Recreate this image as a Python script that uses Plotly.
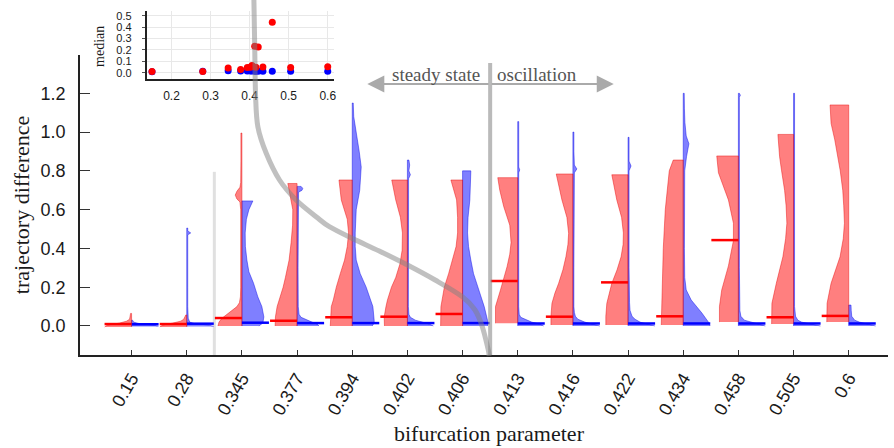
import plotly.graph_objects as go

# ---------------- data ----------------
labels = ["0.15", "0.28", "0.345", "0.377", "0.394", "0.402", "0.406",
          "0.413", "0.416", "0.422", "0.434", "0.458", "0.505", "0.6"]
params = [float(s) for s in labels]

red_median = [0.01, 0.01, 0.041, 0.027, 0.045, 0.048, 0.062,
              0.232, 0.048, 0.225, 0.05, 0.443, 0.045, 0.052]
blue_median = [0.009, 0.012, 0.017, 0.015, 0.015, 0.015, 0.015,
               0.013, 0.013, 0.013, 0.013, 0.013, 0.013, 0.013]

# density profiles (value, relative density)
red_y = [
    [-0.005, 0.005, 0.015, 0.025, 0.035, 0.05, 0.065],
    [-0.005, 0.005, 0.015, 0.025, 0.035, 0.045, 0.057],
    [0.0, 0.02, 0.04, 0.06, 0.08, 0.1, 0.12, 0.15, 0.2, 0.4, 0.6, 0.64, 0.655, 0.675, 0.695, 0.715, 0.74, 0.85, 0.995],
    [0.0, 0.047, 0.1, 0.134, 0.2, 0.25, 0.34, 0.43, 0.52, 0.6, 0.67, 0.735],
    [0.0, 0.05, 0.1, 0.134, 0.2, 0.27, 0.34, 0.41, 0.48, 0.55, 0.65, 0.753],
    [0.0, 0.047, 0.1, 0.134, 0.2, 0.25, 0.32, 0.39, 0.48, 0.56, 0.65, 0.753],
    [0.0, 0.05, 0.1, 0.15, 0.2, 0.27, 0.34, 0.41, 0.48, 0.56, 0.65, 0.753],
    [0.014, 0.1, 0.186, 0.25, 0.306, 0.37, 0.43, 0.52, 0.615, 0.7, 0.765],
    [0.005, 0.05, 0.117, 0.17, 0.22, 0.29, 0.357, 0.42, 0.478, 0.56, 0.65, 0.784],
    [0.005, 0.05, 0.117, 0.17, 0.22, 0.29, 0.357, 0.42, 0.48, 0.56, 0.65, 0.78],
    [0.005, 0.1, 0.2, 0.4, 0.6, 0.7, 0.8, 0.856],
    [0.02, 0.1, 0.186, 0.31, 0.44, 0.53, 0.65, 0.79, 0.877],
    [0.01, 0.05, 0.117, 0.22, 0.357, 0.45, 0.53, 0.62, 0.7, 0.8, 0.873, 0.988],
    [0.02, 0.05, 0.117, 0.22, 0.357, 0.45, 0.53, 0.62, 0.7, 0.8, 0.873, 0.96, 1.045, 1.14],
]
red_w = [
    [27, 24, 12, 5, 2, 1.2, 1],
    [27, 24, 14, 6, 3, 2, 1],
    [24, 23, 20, 15, 10, 5, 2.5, 1.5, 1.2, 1.2, 1.2, 2, 5, 6.7, 5, 2, 1.2, 1, 1],
    [22, 21.7, 20, 17.7, 14, 11.7, 8, 6, 4.5, 4.3, 6.5, 9.3],
    [22, 21.5, 21, 19, 16, 12, 7.7, 5, 3.7, 5, 11, 13.3],
    [23, 23.3, 21.5, 20, 16, 11.7, 7.5, 5.3, 5, 7, 11.7, 15.7],
    [22, 22, 21.7, 20, 18.3, 14, 10, 6.5, 5, 5, 6, 11.7],
    [22.3, 22.3, 17.3, 13.5, 10.7, 8, 6.7, 8, 14, 18, 20],
    [22, 22, 21, 18, 14.3, 10, 7, 5, 4.3, 6, 11, 16.7],
    [22.3, 22.3, 21.3, 19, 16.3, 11, 7, 5, 4.7, 6.5, 11.3, 16.3],
    [22, 21.5, 21, 20, 18, 16, 14, 10],
    [19, 19, 16.7, 10, 5, 5, 10, 20, 21.7],
    [22, 22, 21.7, 17.3, 10.7, 8, 6.7, 7.5, 9, 12, 14, 15.7],
    [22, 22, 21.7, 17.7, 8.7, 5.5, 4.3, 5, 6, 8.5, 11, 14, 17.7, 18.7],
]
blue_y = [
    [-0.002, 0.005, 0.012, 0.02, 0.03],
    [-0.002, 0.005, 0.012, 0.02, 0.04, 0.07, 0.1, 0.2, 0.4, 0.47, 0.48, 0.49, 0.505],
    [0.0, 0.015, 0.047, 0.1, 0.15, 0.22, 0.28, 0.34, 0.41, 0.48, 0.55, 0.6, 0.645],
    [0.0, 0.01, 0.02, 0.03, 0.045, 0.06, 0.1, 0.3, 0.6, 0.69, 0.7, 0.71, 0.72],
    [0.0, 0.015, 0.03, 0.1, 0.2, 0.27, 0.34, 0.41, 0.48, 0.6, 0.7, 0.78, 0.82, 0.9, 0.995, 1.08, 1.15],
    [0.0, 0.01, 0.02, 0.03, 0.045, 0.06, 0.1, 0.3, 0.6, 0.76, 0.78, 0.8, 0.83, 0.856],
    [0.0, 0.03, 0.1, 0.2, 0.27, 0.34, 0.41, 0.48, 0.56, 0.65, 0.72, 0.8],
    [0.0, 0.01, 0.02, 0.03, 0.045, 0.06, 0.1, 0.3, 0.6, 0.79, 0.805, 0.82, 0.9, 1.054],
    [0.0, 0.01, 0.02, 0.035, 0.05, 0.07, 0.1, 0.3, 0.6, 0.79, 0.81, 0.83, 0.9, 1.0],
    [0.0, 0.01, 0.02, 0.035, 0.05, 0.08, 0.12, 0.3, 0.6, 0.8, 0.825, 0.85, 0.973],
    [0.0, 0.022, 0.067, 0.1, 0.134, 0.186, 0.25, 0.4, 0.6, 0.8, 0.873, 0.94, 0.98, 1.05, 1.12, 1.2],
    [0.0, 0.01, 0.02, 0.03, 0.05, 0.08, 0.3, 0.6, 0.9, 1.18, 1.19, 1.2],
    [0.0, 0.01, 0.02, 0.03, 0.05, 0.1, 0.4, 0.8, 1.2],
    [0.0, 0.01, 0.02, 0.03, 0.05, 0.08, 0.095, 0.108],
]
blue_w = [
    [27, 22, 8, 2, 1],
    [27, 22, 8, 3, 1.5, 1.2, 1, 1, 1, 1, 4, 1, 1],
    [17, 21, 22, 20, 16, 11.7, 7, 5, 3.5, 3.3, 4.5, 7, 11],
    [22, 20, 15, 10, 4, 2, 1.2, 1, 1, 1.5, 5, 5.7, 4],
    [20, 22, 22, 20.7, 14, 8, 4, 3, 3, 4, 7.5, 9, 9, 7, 4, 1.5, 1],
    [26, 22, 15, 8, 3, 1.5, 1, 1, 1, 1.2, 3, 1.5, 2.3, 1.5],
    [25, 25, 21.7, 15, 11, 8.3, 6, 5, 5.5, 7.3, 8, 8.3],
    [26, 22, 14, 9, 3, 1.5, 1, 1, 1, 1, 2, 1, 1, 1],
    [27, 20, 12, 5, 2.5, 1.5, 1, 1, 1, 1.5, 4, 1.5, 1, 1],
    [27, 20, 12, 7, 4, 2, 1.5, 1, 1, 1, 3, 1, 1],
    [27, 25, 18.7, 13, 8, 3, 1.5, 1.2, 1.2, 1.5, 3.3, 5.7, 3, 1.7, 1.2, 1],
    [27, 20, 13, 6, 2.5, 1.5, 1, 1, 1, 1, 2, 1],
    [27, 16, 8, 4.3, 2, 1, 1, 1, 1],
    [27, 18, 10.7, 6, 3, 2.5, 2.5, 2.3],
]

y_ticks = [0.0, 0.2, 0.4, 0.6, 0.8, 1.0, 1.2]
inset_x_ticks = [0.2, 0.3, 0.4, 0.5, 0.6]
inset_y_ticks = [0.0, 0.1, 0.2, 0.3, 0.4, 0.5]

# ---------------- styling ----------------
W, H = 894, 448
ML, MR, MT, MB = 80, 4, 5, 93
WSCALE = 1 / 55.3          # density -> category units
HALF = 0.49                # median line length
RED_FILL, RED_LINE = "rgba(255,0,0,0.5)", "rgba(230,0,0,0.55)"
BLUE_FILL, BLUE_LINE = "rgba(0,0,255,0.5)", "rgba(0,0,230,0.55)"
SANS = "Liberation Sans, Arial, sans-serif"
SERIF = "Liberation Serif, Times New Roman, serif"

fig = go.Figure()

for i in range(len(labels)):
    ys, ws = blue_y[i], blue_w[i]
    xs = [i + w * WSCALE for w in ws] + [i, i]
    yy = list(ys) + [ys[-1], ys[0]]
    fig.add_trace(go.Scatter(x=xs, y=yy, fill="toself", fillcolor=BLUE_FILL,
                             mode="lines", line=dict(color=BLUE_LINE, width=0.8),
                             hoverinfo="skip"))
    ys, ws = red_y[i], red_w[i]
    xs = [i - w * WSCALE for w in ws] + [i, i]
    yy = list(ys) + [ys[-1], ys[0]]
    fig.add_trace(go.Scatter(x=xs, y=yy, fill="toself", fillcolor=RED_FILL,
                             mode="lines", line=dict(color=RED_LINE, width=0.8),
                             hoverinfo="skip"))

rx, ry, bx, by = [], [], [], []
for i in range(len(labels)):
    rx += [i - HALF, i, None]
    ry += [red_median[i], red_median[i], None]
    bx += [i, i + HALF, None]
    by += [blue_median[i], blue_median[i], None]
fig.add_trace(go.Scatter(x=bx, y=by, mode="lines", line=dict(color="#0000ff", width=2.5)))
fig.add_trace(go.Scatter(x=rx, y=ry, mode="lines", line=dict(color="#ff0000", width=2.5)))

# inset
fig.add_trace(go.Scatter(x=params, y=blue_median, mode="markers", xaxis="x2", yaxis="y2",
                         marker=dict(color="#0000ff", size=7)))
fig.add_trace(go.Scatter(x=params, y=red_median, mode="markers", xaxis="x2", yaxis="y2",
                         marker=dict(color="#ff0000", size=7)))

X0, X1 = -0.935, 13.712
Y0, Y1 = -0.1496, 1.3976
main_top = (H - MB - 55) / (H - MB - MT)

fig.update_layout(
    width=W, height=H, margin=dict(l=ML, r=MR, t=MT, b=MB),
    plot_bgcolor="white", paper_bgcolor="white", showlegend=False,
    xaxis=dict(domain=[0, 1], range=[X0, X1], tickvals=list(range(len(labels))),
               ticktext=labels, tickangle=-60, ticks="inside", ticklen=5,
               tickcolor="#333", showline=True, linecolor="#222", linewidth=1.5,
               showgrid=False, zeroline=False, ticklabelstandoff=4,
               tickfont=dict(family=SANS, size=18, color="#1a1a1a")),
    yaxis=dict(domain=[0, main_top], range=[Y0, Y1], tickvals=y_ticks,
               ticktext=[f"{v:.1f}" for v in y_ticks], ticks="inside", ticklen=10,
               tickcolor="#333", showline=True, linecolor="#222", linewidth=1.5,
               showgrid=False, zeroline=False, ticklabelstandoff=9,
               tickfont=dict(family=SANS, size=18, color="#1a1a1a")),
    xaxis2=dict(anchor="y2", domain=[(146.7 - ML) / (W - ML - MR), (335 - ML) / (W - ML - MR)],
                range=[0.136, 0.617], tickvals=inset_x_ticks,
                ticktext=[f"{v:.1f}" for v in inset_x_ticks],
                showgrid=True, gridcolor="#e8e8e8", gridwidth=1, zeroline=False,
                showline=True, linecolor="#222", linewidth=1.5, ticks="",
                ticklabelstandoff=5,
                tickfont=dict(family=SANS, size=12, color="#1a1a1a")),
    yaxis2=dict(anchor="x2", domain=[(H - MB - 79.3) / (H - MB - MT), (H - MB - 11) / (H - MB - MT)],
                range=[-0.058, 0.541], tickvals=inset_y_ticks,
                ticktext=[f"{v:.1f}" for v in inset_y_ticks],
                showgrid=True, gridcolor="#e8e8e8", gridwidth=1, zeroline=False,
                showline=True, linecolor="#222", linewidth=1.5, ticks="outside",
                ticklen=3, tickcolor="#555", ticklabelstandoff=8,
                tickfont=dict(family=SANS, size=11, color="#1a1a1a")),
)

# ---------------- decorations ----------------
def to_paper(px, py):
    return ((px - ML) / (W - ML - MR), (H - MB - py) / (H - MB - MT))

guide_curve_px = [(254.3, -2), (255.2, 50), (256, 95), (258.3, 126.7), (266.7, 153.3),
                  (280, 180), (296.7, 200), (316.7, 216.7), (330, 226.7), (352.7, 238.3),
                  (380, 251), (408.3, 265), (436, 280), (463.3, 296.7), (476, 310),
                  (483.3, 326.7), (489.3, 350), (490, 356)]

def catmull(pts):
    P = [to_paper(*p) for p in pts]
    d = f"M{P[0][0]:.5f},{P[0][1]:.5f}"
    n = len(P)
    for i in range(n - 1):
        p0 = P[i - 1] if i > 0 else P[i]
        p1, p2 = P[i], P[i + 1]
        p3 = P[i + 2] if i + 2 < n else P[i + 1]
        c1 = (p1[0] + (p2[0] - p0[0]) / 6, p1[1] + (p2[1] - p0[1]) / 6)
        c2 = (p2[0] - (p3[0] - p1[0]) / 6, p2[1] - (p3[1] - p1[1]) / 6)
        d += f" C{c1[0]:.5f},{c1[1]:.5f} {c2[0]:.5f},{c2[1]:.5f} {p2[0]:.5f},{p2[1]:.5f}"
    return d

shapes = [
    dict(type="line", xref="x", yref="y", x0=1.5, x1=1.5, y0=Y0, y1=0.795,
         line=dict(color="#e0e0e0", width=3), layer="below"),
    dict(type="line", xref="x", yref="y", x0=6.5, x1=6.5, y0=Y0, y1=1.356,
         line=dict(color="rgba(140,140,140,0.6)", width=4), layer="above"),
    dict(type="path", xref="paper", yref="paper", path=catmull(guide_curve_px),
         line=dict(color="rgba(130,130,130,0.5)", width=5), layer="above"),
]
fig.update_layout(shapes=shapes)

arrow_y = 1.248
annotations = [
    dict(x=4.273, y=arrow_y, ax=6.5, ay=arrow_y, xref="x", yref="y", axref="x", ayref="y",
         text="", showarrow=True, arrowhead=2, arrowsize=1.7, arrowwidth=2, arrowcolor="#aaaaaa"),
    dict(x=8.74, y=arrow_y, ax=6.5, ay=arrow_y, xref="x", yref="y", axref="x", ayref="y",
         text="", showarrow=True, arrowhead=2, arrowsize=1.7, arrowwidth=2, arrowcolor="#aaaaaa"),
    dict(x=6.353, y=1.296, xref="x", yref="y", text="steady state", showarrow=False,
         xanchor="right", yanchor="middle", font=dict(family=SERIF, size=19, color="#555")),
    dict(x=6.59, y=1.296, xref="x", yref="y", text="oscillation", showarrow=False,
         xanchor="left", yanchor="middle", font=dict(family=SERIF, size=19, color="#555")),
    dict(x=to_paper(21, 0)[0], y=to_paper(0, 205)[1], xref="paper", yref="paper",
         text="trajectory difference", showarrow=False, textangle=-90,
         xanchor="center", yanchor="middle", font=dict(family=SERIF, size=22, color="#1a1a1a")),
    dict(x=to_paper(491, 0)[0], y=to_paper(0, 433)[1], xref="paper", yref="paper",
         text="bifurcation parameter", showarrow=False,
         xanchor="center", yanchor="middle", font=dict(family=SERIF, size=22, color="#1a1a1a")),
    dict(x=to_paper(100, 0)[0], y=to_paper(0, 46)[1], xref="paper", yref="paper",
         text="median", showarrow=False, textangle=-90,
         xanchor="center", yanchor="middle", font=dict(family=SERIF, size=14, color="#1a1a1a")),
]
fig.update_layout(annotations=annotations)

fig.write_html("out.html")
